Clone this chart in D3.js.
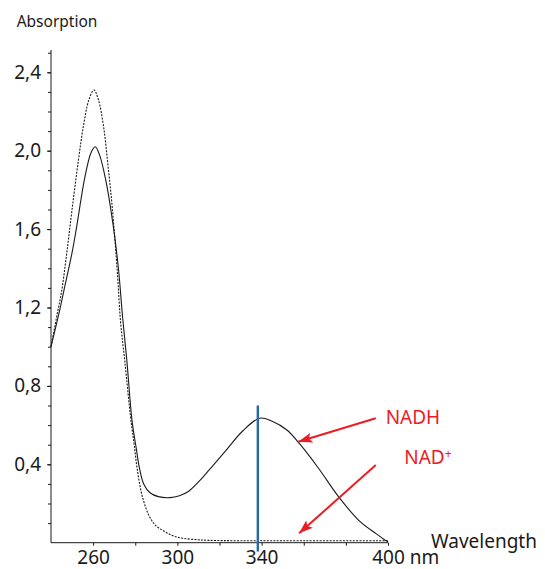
<!DOCTYPE html>
<html>
<head>
<meta charset="utf-8">
<script src="https://cdn.jsdelivr.net/npm/d3@7"></script>
<style>
  body { margin: 0; background: #fff; }
  svg { display: block; font-family: "Noto Sans", sans-serif; }
</style>
</head>
<body>
<div id="grafiek"></div>
<script>
// Wavelength (nm) and absorption
const nadhWl = [240, 244, 246, 250, 252, 256, 259, 261, 263, 266, 269.5, 272, 274, 276, 278.5, 280.5, 282, 284, 287, 291, 296.5, 301, 305, 310, 315, 323, 331, 339, 345, 352, 358, 367, 376.5, 386.5, 394.5, 398, 400];
const nadhAbs = [1.00, 1.18, 1.28, 1.48, 1.60, 1.86, 1.99, 2.02, 1.98, 1.85, 1.62, 1.40, 1.15, 0.93, 0.62, 0.48, 0.38, 0.30, 0.255, 0.235, 0.23, 0.24, 0.26, 0.31, 0.37, 0.47, 0.57, 0.635, 0.62, 0.575, 0.505, 0.38, 0.235, 0.11, 0.045, 0.018, 0.005];

const nadWl = [240, 243, 245, 247.5, 250, 253, 255.3, 258, 260.4, 262.5, 265, 267, 269, 271.5, 273, 275, 278, 279.5, 281, 283.5, 287, 290, 293.5, 298, 303, 310, 315, 330, 360, 400];
const nadAbs = [1.00, 1.17, 1.28, 1.48, 1.70, 1.95, 2.12, 2.26, 2.31, 2.26, 2.12, 1.93, 1.72, 1.38, 1.13, 0.93, 0.62, 0.50, 0.37, 0.23, 0.128, 0.085, 0.06, 0.035, 0.022, 0.015, 0.012, 0.01, 0.01, 0.01];

const xTicks = [260, 280, 300, 320, 340, 360, 380, 400];
const xLabels = [260, 300, 340, 400];
const yMinor = d3.range(1, 26).map(d => d / 10);
const yLabels = [0.4, 0.8, 1.2, 1.6, 2.0, 2.4];

// marker line at the NADH band
const markerWl = 338.2;
const markerRange = [-0.045, 0.7];

// annotations: [label, label wl, label abs, arrow start wl, abs, arrow tip wl, abs]
const notes = [
  ["NADH", 398.9, 0.605, 394.2, 0.635, 357.4, 0.515],
  ["NAD", 407.7, 0.40, 394.2, 0.396, 357.8, 0.048]
];

const W = 545, H = 569;
const svg = d3.select('#grafiek')
  .append('svg')
  .attr('width', W)
  .attr('height', H);

const x = d3.scaleLinear().domain([240, 400]).range([51, 388]);
const y = d3.scaleLinear().domain([0, 2.5]).range([542.7, 52.7]);

const red = "#ec1c24";
const ink = "#1a1a1a";

// Y axis: minor ticks, then labelled ones
const yAxisG = svg.append("g")
  .attr("transform", `translate(${x(240)},0)`)
  .call(d3.axisLeft(y).tickValues(yMinor).tickSize(3).tickFormat(""));
yAxisG.select(".domain").attr("d", `M0,${y(0)}V50`).attr("stroke", ink);
yAxisG.selectAll(".tick line").attr("stroke", ink);

const yLab = svg.append("g")
  .attr("transform", `translate(${x(240)},0)`)
  .call(d3.axisLeft(y).tickValues(yLabels).tickSize(4).tickPadding(6)
    .tickFormat(d => d3.format(".1f")(d).replace(".", ",")));
yLab.select(".domain").remove();
yLab.selectAll(".tick line").attr("stroke", ink);
yLab.selectAll("text").attr("font-size", 19).attr("font-family", "Noto Sans").attr("fill", ink);

// X axis
const xAxisG = svg.append("g")
  .attr("transform", `translate(0,${y(0)})`)
  .call(d3.axisBottom(x).tickValues(xTicks).tickSize(3).tickPadding(4.5)
    .tickFormat(d => xLabels.includes(d) ? d : ""));
xAxisG.select(".domain").attr("d", `M${x(240)},0H${x(400)}`).attr("stroke", ink);
xAxisG.selectAll(".tick line").attr("stroke", ink);
xAxisG.selectAll("text").attr("font-size", 19).attr("font-family", "Noto Sans").attr("fill", ink);

// "nm" unit after the 400 label
const last = xAxisG.selectAll(".tick").filter(d => d === 400).select("text");
const lw = last.node().getComputedTextLength();
last.attr("text-anchor", "start").attr("x", -lw / 2).text("400 nm");

// axis titles
svg.append("text").attr("x", 16.7).attr("y", 27)
  .attr("font-size", 15.5).attr("fill", ink).text("Absorption");
svg.append("text").attr("x", 431).attr("y", 547.5)
  .attr("font-size", 19).attr("fill", ink).text("Wavelength");

const line = d3.line()
  .x(d => x(d[0]))
  .y(d => y(d[1]))
  .curve(d3.curveCatmullRom.alpha(0.5));

// NAD+ dashed
svg.append("path")
  .datum(d3.zip(nadWl, nadAbs))
  .attr("d", line)
  .attr("fill", "none")
  .attr("stroke", ink)
  .attr("stroke-width", 1.1)
  .attr("stroke-dasharray", "2,1.3");

// NADH solid
svg.append("path")
  .datum(d3.zip(nadhWl, nadhAbs))
  .attr("d", line)
  .attr("fill", "none")
  .attr("stroke", ink)
  .attr("stroke-width", 1.1);

// blue marker
svg.append("line")
  .attr("x1", x(markerWl)).attr("x2", x(markerWl))
  .attr("y1", y(markerRange[1])).attr("y2", y(markerRange[0]))
  .attr("stroke", "#2767b0")
  .attr("stroke-width", 2.4);

// arrows
svg.append("defs").append("marker")
  .attr("id", "head")
  .attr("markerUnits", "userSpaceOnUse")
  .attr("viewBox", "0 0 14 10")
  .attr("refX", 14).attr("refY", 5)
  .attr("markerWidth", 14).attr("markerHeight", 10)
  .attr("orient", "auto")
  .append("path")
  .attr("d", "M0,0L14,5L0,10L3,5Z")
  .attr("fill", red);

notes.forEach(n => {
  svg.append("line")
    .attr("x1", x(n[3])).attr("y1", y(n[4]))
    .attr("x2", x(n[5])).attr("y2", y(n[6]))
    .attr("stroke", red)
    .attr("stroke-width", 2)
    .attr("marker-end", "url(#head)");
  const t = svg.append("text")
    .attr("x", x(n[1])).attr("y", y(n[2]))
    .attr("font-size", 19).attr("fill", red)
    .text(n[0]);
  if (n[0] === "NAD") {
    t.append("tspan").attr("font-size", 12).attr("dy", -6.5).text("+");
  }
});
</script>
</body>
</html>
